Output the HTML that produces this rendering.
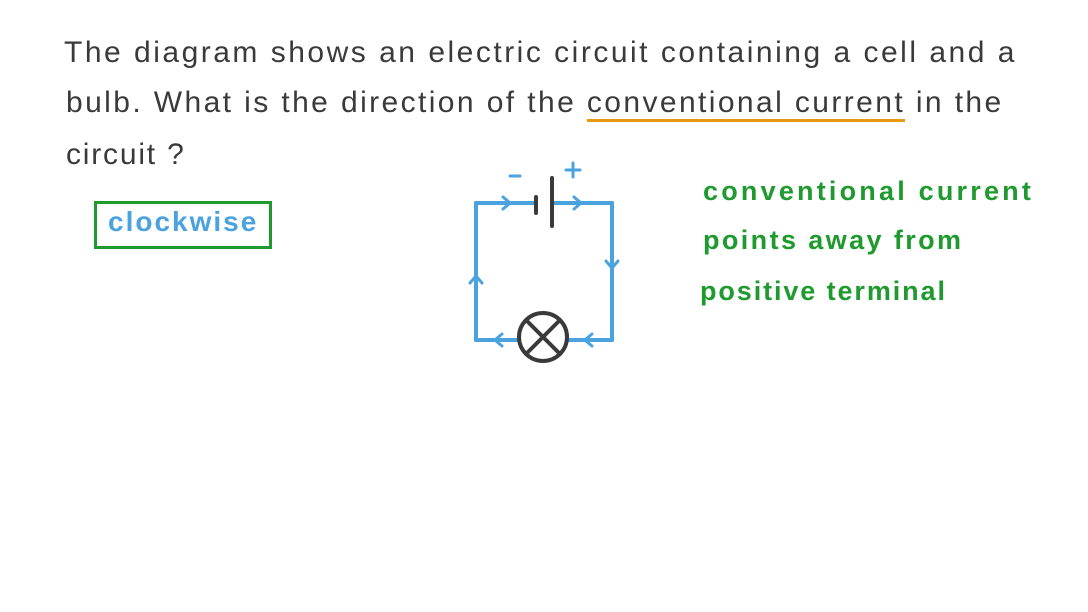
<!DOCTYPE html>
<html><head><style>
body{margin:0;width:1088px;height:612px;background:#fff;position:relative;overflow:hidden;font-family:"Liberation Sans",sans-serif}
.t{position:absolute;color:#3a3a3a;font-size:30px;white-space:nowrap}
.g{position:absolute;color:#1f9a2e;font-size:27px;white-space:nowrap;font-weight:bold}
</style></head><body>
<div class="t" style="left:64px;top:36px;letter-spacing:2.5px">The diagram shows an electric circuit containing a cell and a</div>
<div class="t" style="left:66px;top:86px;letter-spacing:2.4px">bulb. What is the direction of the <span style="border-bottom:3px solid #e8990f">conventional current</span> in the</div>
<div class="t" style="left:66px;top:138px;letter-spacing:1.8px">circuit ?</div>
<div style="position:absolute;left:94px;top:201px;width:172px;height:42px;border:3px solid #1f9a2e"></div>
<div style="position:absolute;left:108px;top:206px;color:#4aa3df;font-size:28px;font-weight:bold;letter-spacing:2px">clockwise</div>
<div class="g" style="left:703px;top:176px;letter-spacing:3.2px">conventional current</div>
<div class="g" style="left:703px;top:225px;letter-spacing:2.4px">points away from</div>
<div class="g" style="left:700px;top:276px;letter-spacing:1.9px">positive terminal</div>
<svg width="1088" height="612" style="position:absolute;left:0;top:0">
<g fill="none" stroke-linecap="round" stroke-linejoin="round">
<path d="M476 203 V340 H612 V203" stroke="#3a3a3a" stroke-width="4"/>
<path d="M536 203 H476 V340 H612 V203 H552" stroke="#4aa3df" stroke-width="4"/>
<path d="M536 197 V213" stroke="#3a3a3a" stroke-width="4"/>
<path d="M552 178 V226" stroke="#3a3a3a" stroke-width="4"/>
<circle cx="543" cy="337" r="24" fill="#fff" stroke="#3a3a3a" stroke-width="4"/>
<path d="M526 320 L560 354 M560 320 L526 354" stroke="#3a3a3a" stroke-width="4"/>
<g stroke="#4aa3df" stroke-width="3">
<path d="M503 197 L510 203 L503 209"/>
<path d="M574 197 L581 203 L574 209"/>
<path d="M606 261 L612 268 L618 261"/>
<path d="M592 334 L585 340 L592 346"/>
<path d="M502 334 L495 340 L502 346"/>
<path d="M470 283 L476 276 L482 283"/>
<path d="M510 176 H520"/>
<path d="M566 170 H580 M573 163 V177"/>
</g></g></svg>
</body></html>
